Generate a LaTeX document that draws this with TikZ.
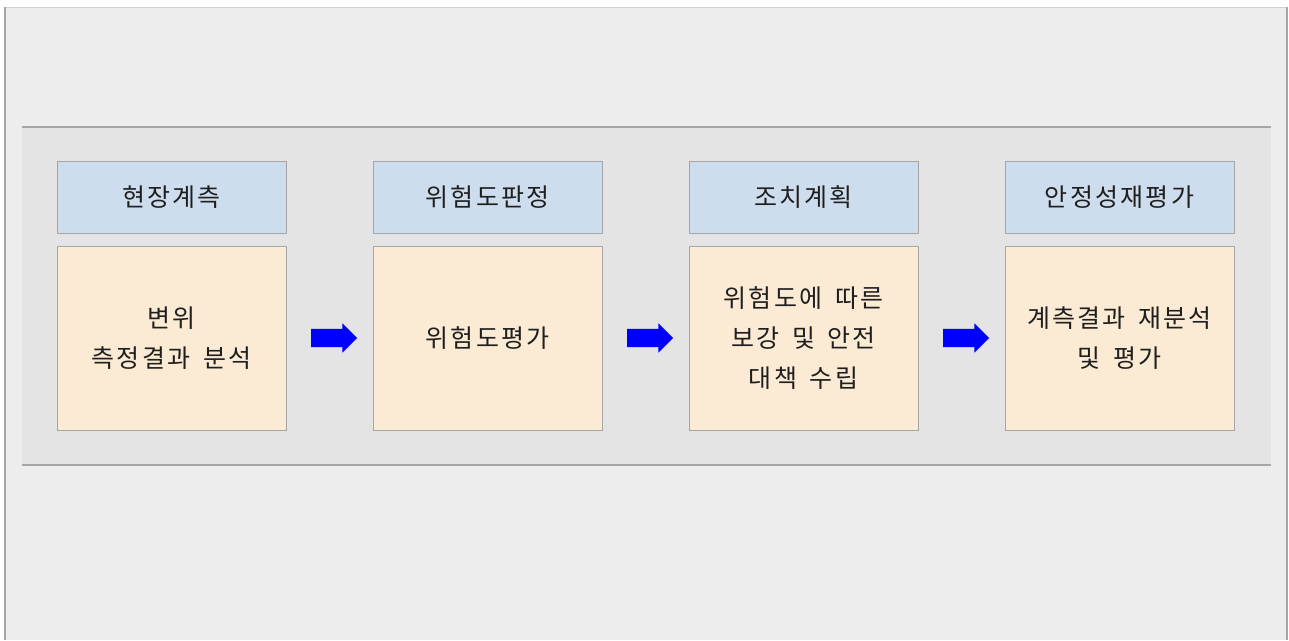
\documentclass[tikz,border=0pt]{standalone}
\usepackage{fontspec}
\setmainfont{Noto Sans CJK KR}[WordSpace=1.6, LetterSpace=9]
\usetikzlibrary{positioning,shapes.arrows}

\definecolor{pagebg}{HTML}{EDEDED}
\definecolor{bandbg}{HTML}{E4E4E4}
\definecolor{edgegray}{HTML}{A6A6A6}
\definecolor{headblue}{HTML}{CEDDED}
\definecolor{bodycream}{HTML}{FBEBD4}

\tikzset{
    head/.style={draw=edgegray, fill=headblue, line width=1pt,
        minimum width=229pt, minimum height=72pt, inner sep=0pt, outer sep=0pt,
        font=\fontsize{25}{40}\selectfont, text=black!88},
    body/.style={head, fill=bodycream, minimum height=184pt, align=center},
    flowarrow/.style={single arrow, fill=blue, draw=none, inner xsep=0pt, inner ysep=9pt,
        minimum height=46pt, single arrow head extend=5.5pt}
}

\begin{document}
\begin{tikzpicture}[x=1pt, y=-1pt]
    \useasboundingbox (0,0) rectangle (1289,640);
    \fill[pagebg] (5,7) rectangle (1287,640);
    \draw[black!18] (5,7) -- (1287,7);
    \draw[edgegray, line width=2pt] (5,7) -- (5,640) (1287,7) -- (1287,640);
    \fill[bandbg] (22,127) rectangle (1271,465);
    \draw[edgegray, line width=2pt] (22,127) -- (1271,127) (22,465) -- (1271,465);

    \node[head] (hd1) at (171.5,197) {현장계측};
    \node[head, right=87pt of hd1] (hd2) {위험도판정};
    \node[head, right=87pt of hd2] (hd3) {조치계획};
    \node[head, right=87pt of hd3] (hd4) {안정성재평가};

    \node[body, below=13pt of hd1] (bd1) {변위\\측정결과 분석};
    \node[body, below=13pt of hd2] (bd2) {위험도평가};
    \node[body, below=13pt of hd3] (bd3) {위험도에 따른\\보강 및 안전\\대책 수립};
    \node[body, below=13pt of hd4] (bd4) {계측결과 재분석\\및 평가};

    \path (bd1) -- node[flowarrow] {} (bd2);
    \path (bd2) -- node[flowarrow] {} (bd3);
    \path (bd3) -- node[flowarrow] {} (bd4);
\end{tikzpicture}
\end{document}
